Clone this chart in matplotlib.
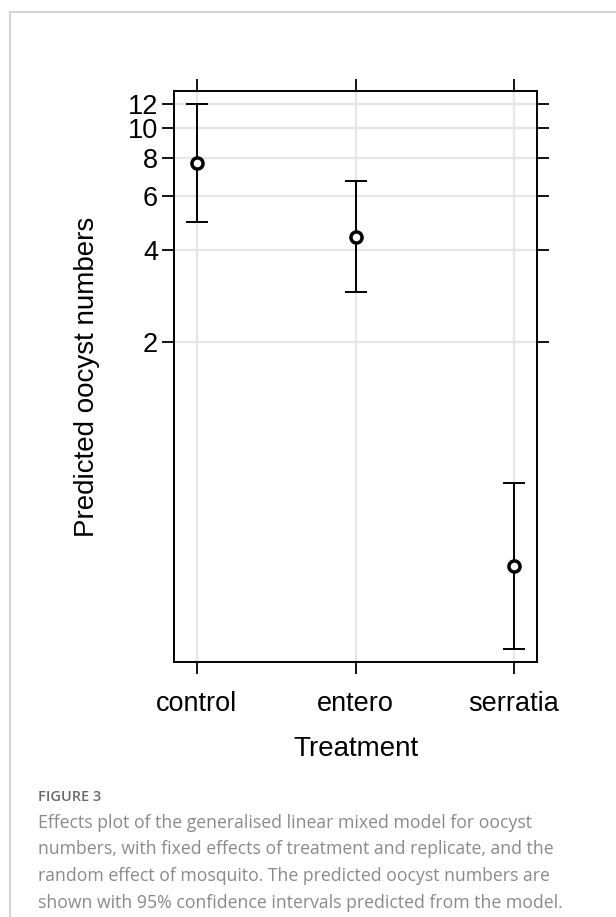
import matplotlib
matplotlib.use("Agg")
import matplotlib.pyplot as plt
from matplotlib.lines import Line2D
import numpy as np

# effects plot: predicted oocyst numbers with 95% CI (log scale)
treatments = ["control", "entero", "serratia"]
fit = [7.72, 4.42, 0.368]
lower = [4.93, 2.90, 0.197]
upper = [12.0, 6.74, 0.686]
y_ticks = [2, 4, 6, 8, 10, 12]

caption_head = "FIGURE 3"
caption_lines = [
    "Effects plot of the generalised linear mixed model for oocyst",
    "numbers, with fixed effects of treatment and replicate, and the",
    "random effect of mosquito. The predicted oocyst numbers are",
    "shown with 95% confidence intervals predicted from the model.",
]

W, H = 616, 917
fig = plt.figure(figsize=(W / 100, H / 100), dpi=100)
plt.rcParams["font.family"] = ["Liberation Sans", "DejaVu Sans"]

ax = fig.add_axes([174 / W, 1 - 662 / H, (537 - 174) / W, (662 - 91) / H])
x = np.arange(1, len(treatments) + 1)

ax.set_yscale("log")
ax.set_xlim(0.855, 3.145)
ax.set_ylim(0.178, 13.27)
ax.set_xticks(x)
ax.set_xticklabels(treatments)
ax.set_yticks(y_ticks)
ax.set_yticklabels([str(v) for v in y_ticks])
ax.yaxis.set_minor_locator(matplotlib.ticker.NullLocator())

ax.grid(True, color="#e6e6e6", linewidth=1.6, zorder=0)
ax.set_axisbelow(True)

fit_a = np.array(fit)
yerr = [fit_a - np.array(lower), np.array(upper) - fit_a]
ax.errorbar(x, fit, yerr=yerr, fmt="none", ecolor="black", elinewidth=1.4,
            capsize=8.2, capthick=1.4, zorder=3)
ax.plot(x, fit, "o", markersize=8, markerfacecolor="white",
        markeredgecolor="black", markeredgewidth=2.5, zorder=4)

for s in ax.spines.values():
    s.set_linewidth(1.4)
ax.tick_params(axis="both", which="major", direction="out", length=8.6,
               width=1.3, top=True, right=True, labeltop=False,
               labelright=False, labelsize=19.5, pad=3)
ax.tick_params(axis="x", pad=12)
ax.set_xlabel("Treatment", fontsize=20, labelpad=14)
ax.set_ylabel("Predicted oocyst numbers", fontsize=20, labelpad=20)

# light frame of the figure panel
fig.add_artist(Line2D([9.5 / W, 9.5 / W], [0, 1 - 11.5 / H], color="#d4d4d4",
                      linewidth=1.5, transform=fig.transFigure))
fig.add_artist(Line2D([9.5 / W, 1], [1 - 11.5 / H, 1 - 11.5 / H],
                      color="#d4d4d4", linewidth=1.5, transform=fig.transFigure))

fig.text(38 / W, 1 - 797 / H, caption_head, fontsize=10.5, color="#6a6a6a",
         family=["Open Sans", "DejaVu Sans"], fontweight="semibold",
         va="center", ha="left")
for i, line in enumerate(caption_lines):
    fig.text(38 / W, 1 - (823 + 26.5 * i) / H, line, fontsize=12.7,
             color="#8a8a8a", family=["Open Sans", "DejaVu Sans"],
             va="center", ha="left")

fig.savefig("out.png", dpi=100)
